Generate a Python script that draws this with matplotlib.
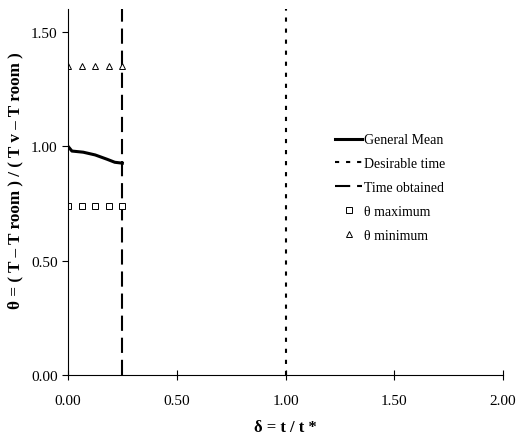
import matplotlib
matplotlib.use("Agg")
import matplotlib.pyplot as plt

plt.rcParams['font.family'] = ['Liberation Serif', 'DejaVu Serif']

# general mean of theta against delta
mean_x = [0.0, 0.018, 0.07, 0.125, 0.18, 0.215, 0.25]
mean_y = [1.00, 0.979, 0.974, 0.962, 0.943, 0.930, 0.926]

# measured points
pts_x = [0.0, 0.0625, 0.125, 0.1875, 0.25]
theta_max = [0.74, 0.74, 0.74, 0.74, 0.74]
theta_min = [1.35, 1.35, 1.35, 1.35, 1.35]

desirable_time = 1.0
time_obtained = 0.25

fig = plt.figure(figsize=(5.19, 4.39), dpi=100)
ax = fig.add_axes([68/519, 1 - 376/439, 435/519, 366/439])

ax.plot(mean_x, mean_y, color='black', lw=2.2, label='General Mean')
ax.axvline(desirable_time, color='black', lw=1.5, ls=(0, (2, 3.3)), label='Desirable time')
ax.axvline(time_obtained, color='black', lw=1.5, ls=(0, (7.3, 3.3)), label='Time obtained')
ax.plot(pts_x, theta_max, ls='none', marker='s', ms=4, mfc='white', mec='black', mew=0.7,
        label='θ maximum')
ax.plot(pts_x, theta_min, ls='none', marker='^', ms=4, mfc='white', mec='black', mew=0.7,
        label='θ minimum')

ax.set_xlim(0, 2.0)
ax.set_ylim(0, 1.6)
ax.set_xticks([0, 0.5, 1.0, 1.5, 2.0])
ax.set_yticks([0, 0.5, 1.0, 1.5])
ax.set_xticklabels(['0.00', '0.50', '1.00', '1.50', '2.00'])
ax.set_yticklabels(['0.00', '0.50', '1.00', '1.50'])
ax.tick_params(axis='x', direction='inout', length=7, width=0.8, labelsize=11, pad=10)
ax.tick_params(axis='y', direction='out', length=4, width=0.8, labelsize=11)
for s in ['top', 'right']:
    ax.spines[s].set_visible(False)
for s in ['left', 'bottom']:
    ax.spines[s].set_linewidth(0.8)

ax.set_xlabel('δ = t / t *', fontsize=12, fontweight='bold', labelpad=9)
ax.set_ylabel('θ = ( T – T room ) / ( T v – T room )', fontsize=12.3, fontweight='bold')
ax.yaxis.set_label_coords(-0.103, 0.535)

leg = ax.legend(loc='upper left', bbox_to_anchor=(0.585, 0.694), frameon=False,
                fontsize=10, handlelength=1.95, handletextpad=0.15, labelspacing=0.78)

fig.savefig('out.png', dpi=100)
